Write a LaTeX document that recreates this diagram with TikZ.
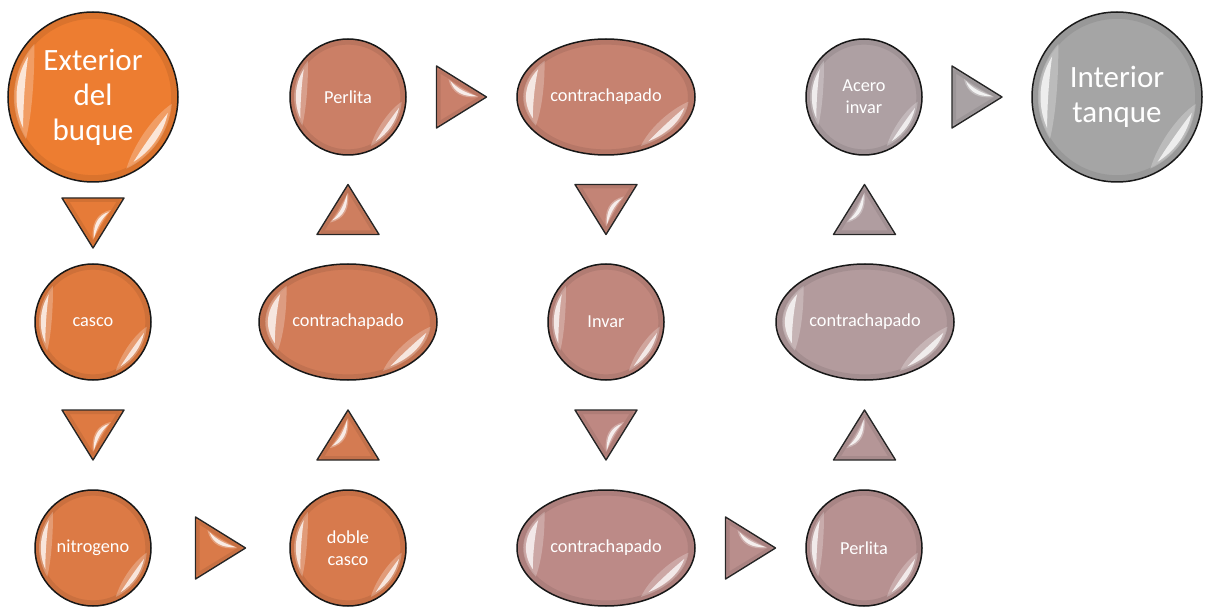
\documentclass[tikz,border=0pt]{standalone}
\usepackage{fontspec}
\setmainfont{Carlito}
\usetikzlibrary{shapes.geometric,calc}
\definecolor{c1}{HTML}{ED7D31}
\definecolor{c2}{HTML}{E07A3E}
\definecolor{c3}{HTML}{DC7A45}
\definecolor{c4}{HTML}{D77A4D}
\definecolor{c5}{HTML}{D27C58}
\definecolor{c6}{HTML}{CB7F66}
\definecolor{c7}{HTML}{C68270}
\definecolor{c8}{HTML}{C1877D}
\definecolor{c9}{HTML}{BC8A87}
\definecolor{c10}{HTML}{B79191}
\definecolor{c11}{HTML}{B39B9D}
\definecolor{c12}{HTML}{AEA0A3}
\definecolor{c13}{HTML}{A5A5A5}
\colorlet{a1}{c1!50!c2}
\colorlet{a2}{c2!50!c3}
\colorlet{a3}{c3!50!c4}
\colorlet{a4}{c4!50!c5}
\colorlet{a5}{c5!50!c6}
\colorlet{a6}{c6!50!c7}
\colorlet{a7}{c7!50!c8}
\colorlet{a8}{c8!50!c9}
\colorlet{a9}{c9!50!c10}
\colorlet{a10}{c10!50!c11}
\colorlet{a11}{c11!50!c12}
\colorlet{a12}{c12!50!c13}
\tikzset{
  bub/.style={circle, fill=#1, draw=black!90, line width=1.5pt, minimum size=116pt,
    inner sep=0pt, text=white, font=\fontsize{18.3}{22}\selectfont, align=center},
  bigbub/.style={bub=#1, minimum size=170pt, font=\fontsize{31}{35}\selectfont},
  oval/.style={ellipse, fill=#1, draw=black!90, line width=1.5pt, minimum width=178pt,
    minimum height=116pt, inner sep=0pt, text=white, font=\fontsize{18.3}{22}\selectfont, align=center},
  gloss/.pic={
    \draw[black, opacity=0.08, line width=6pt] (0,0) circle (0.955);
    \fill[white, opacity=0.25] (138:0.93) arc[start angle=138, end angle=212, radius=0.93]
      .. controls (195:0.74) and (158:0.74) .. cycle;
    \fill[white, opacity=0.75] (148:0.9) arc[start angle=148, end angle=204, radius=0.9]
      .. controls (188:0.83) and (165:0.83) .. cycle;
    \fill[white, opacity=0.25] (-5:0.93) arc[start angle=-5, end angle=-65, radius=0.93]
      .. controls (-50:0.74) and (-18:0.74) .. cycle;
    \fill[white, opacity=0.75] (-12:0.9) arc[start angle=-12, end angle=-58, radius=0.9]
      .. controls (-45:0.83) and (-25:0.83) .. cycle;
  },
  tri/.pic={
    \filldraw[fill=#1, draw=black!85, line width=1.4pt, line join=round]
      (25,0) -- (-25,31) -- (-25,-31) -- cycle;
    \draw[black, opacity=0.08, line width=3pt, line join=round]
      (20,0) -- (-22.5,26) -- (-22.5,-26) -- cycle;
    \fill[white, opacity=0.3] (-13,18) .. controls (-10,3) and (2,-2) .. (17,0)
      .. controls (5,6) and (-4,10) .. cycle;
    \fill[white, opacity=0.8] (-11,16) .. controls (-8,5) and (2,0) .. (15,1)
      .. controls (5,4) and (-4,8) .. cycle;
  }
}
\begin{document}
\begin{tikzpicture}[x=1pt, y=1pt]
\useasboundingbox (0,0) rectangle (1208,606);
% nodes
\node[bigbub=c1] (ext) at (93,509) {Exterior\\del\\buque};
\node[bub=c2] (casco) at (93,284) {casco};
\node[bub=c3] (nitro) at (93,58) {nitrogeno};
\node[bub=c4] (doble) at (348,58) {doble\\casco};
\node[oval=c5] (cont1) at (348,284) {contrachapado};
\node[bub=c6] (perl1) at (348,509) {Perlita};
\node[oval=c7] (cont2) at (606,509) {contrachapado};
\node[bub=c8] (invar) at (606,284) {Invar};
\node[oval=c9] (cont3) at (606,58) {contrachapado};
\node[bub=c10] (perl2) at (864,58) {Perlita};
\node[oval=c11] (cont4) at (865,284) {contrachapado};
\node[bub=c12] (acero) at (864,509) {Acero\\invar};
\node[bigbub=c13] (inter) at (1117,509) {Interior\\tanque};
% gloss
\foreach \n in {casco,nitro,doble,perl1,invar,perl2,acero}
  \pic[scale=58] at (\n) {gloss};
\foreach \n in {ext,inter}
  \pic[scale=85] at (\n) {gloss};
\foreach \n in {cont1,cont2,cont3,cont4}
  \pic[xscale=89, yscale=58] at (\n) {gloss};
% arrows
\coordinate (t1) at ($(ext.south)!0.5!(casco.north)$);
\coordinate (t2) at ($(casco.south)!0.5!(nitro.north)$);
\coordinate (t3) at ($(nitro.east)!0.5!(doble.west)$);
\coordinate (t4) at ($(doble.north)!0.5!(cont1.south)$);
\coordinate (t5) at ($(cont1.north)!0.5!(perl1.south)$);
\coordinate (t6) at ($(perl1.east)!0.5!(cont2.west)$);
\coordinate (t7) at ($(cont2.south)!0.5!(invar.north)$);
\coordinate (t8) at ($(invar.south)!0.5!(cont3.north)$);
\coordinate (t9) at ($(cont3.east)!0.5!(perl2.west)$);
\coordinate (t10) at ($(perl2.north)!0.5!(cont4.south)$);
\coordinate (t11) at ($(cont4.north)!0.5!(acero.south)$);
\coordinate (t12) at ($(acero.east)!0.5!(inter.west)$);
\pic[rotate=-90] at (t1) {tri=a1};
\pic[rotate=-90] at (t2) {tri=a2};
\pic at (t3) {tri=a3};
\pic[rotate=90] at (t4) {tri=a4};
\pic[rotate=90] at (t5) {tri=a5};
\pic at (t6) {tri=a6};
\pic[rotate=-90] at (t7) {tri=a7};
\pic[rotate=-90] at (t8) {tri=a8};
\pic at (t9) {tri=a9};
\pic[rotate=90] at (t10) {tri=a10};
\pic[rotate=90] at (t11) {tri=a11};
\pic at (t12) {tri=a12};
\end{tikzpicture}
\end{document}
